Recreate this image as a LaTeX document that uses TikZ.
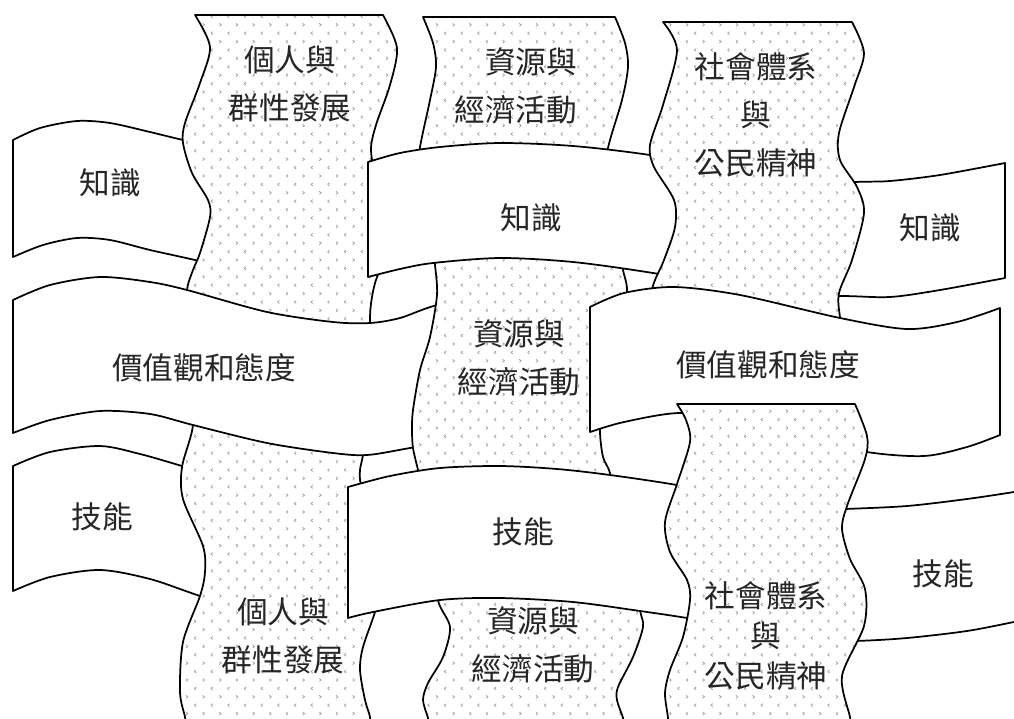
\documentclass[tikz,border=0pt]{standalone}
\usepackage{fontspec}
\setmainfont{Noto Sans CJK TC}
\usepackage{xcolor}
\usepackage{tikz}
\usetikzlibrary{patterns}

\pgfdeclarepatternformonly{chevrons}{\pgfqpoint{-1pt}{-1pt}}{\pgfqpoint{13.5pt}{13.6pt}}{\pgfqpoint{12.5pt}{12.6pt}}{%
 \pgfsetlinewidth{0.5pt}%
 \pgfpathmoveto{\pgfqpoint{2pt}{4.4pt}}\pgfpathlineto{\pgfqpoint{3.4pt}{3.3pt}}\pgfpathlineto{\pgfqpoint{2pt}{2.2pt}}%
 \pgfpathmoveto{\pgfqpoint{9.6pt}{10.7pt}}\pgfpathlineto{\pgfqpoint{8.2pt}{9.6pt}}\pgfpathlineto{\pgfqpoint{9.6pt}{8.5pt}}%
 \pgfusepath{stroke}}

\begin{document}
\begin{tikzpicture}[x=0.75pt, y=-0.75pt, line width=1.3pt, line join=round,
  band/.style={draw, fill=white},
  strand/.style={draw, preaction={fill=white}, pattern=chevrons, pattern color=black!40},
  lbl/.style={font=\fontsize{23}{36}\selectfont, text=black!85, align=center, inner sep=0pt}]
\useasboundingbox (0,0) rectangle (1014,718);
\clip (0,0) rectangle (1014,718);

\draw[band] plot[smooth] coordinates {(13,140) (40,128) (77,121) (110,123) (150,132) (183,140) (290,165)} -- plot[smooth] coordinates {(290,282) (195,260) (150,250) (110,240) (77,238) (43,245) (13,257)} -- cycle;
\draw[band] plot[smooth] coordinates {(760,186) (855,182) (890,181) (940,175) (1005,163)} -- plot[smooth] coordinates {(1005,278) (940,290) (890,297) (839,296) (760,298)} -- cycle;
\draw[band] plot[smooth] coordinates {(13,466) (50,452) (100,446) (140,454) (182,466) (280,495)} -- plot[smooth] coordinates {(280,622) (200,596) (150,579) (100,570) (50,577) (13,591)} -- cycle;
\draw[band] plot[smooth] coordinates {(760,512) (845,509) (907,506) (967,499) (1014,492) (1030,489)} -- plot[smooth] coordinates {(1030,619) (1014,622) (967,631) (907,638) (855,641) (760,643)} -- cycle;

\draw[strand] (423,17) -- plot[smooth] coordinates {(615,17) (625,43) (628,67) (622,100) (608,148) (600,200)} -- plot[smooth] coordinates {(412,200) (420,147) (430,100) (436,67) (433,43) (423,17)} -- cycle;
\draw[strand] plot[smooth] coordinates {(440,560) (438,600) (450,627) (443,657) (428,683) (423,700) (428,718) (430,730)} -- plot[smooth] coordinates {(625,730) (623,718) (617,700) (618,687) (633,657) (643,627) (640,610) (632,560)} -- cycle;
\draw[strand] (195,15) -- plot[smooth] coordinates {(383,15) (397,48) (390,85) (376,125) (371,150) (377,180) (393,207) (397,222) (388,255) (377,277) (372,297) (370,322) (373,380)} -- plot[smooth] coordinates {(186,380) (185,330) (187,290) (193,270) (200,253) (210,217) (208,200) (192,173) (183,143) (185,123) (200,83) (210,47) (195,15)} -- cycle;
\draw[strand] plot[smooth] coordinates {(190,380) (193,425) (182,467) (183,499) (203,546) (205,572) (200,596) (183,642) (180,692) (185,717) (187,730)} -- plot[smooth] coordinates {(370,730) (370,717) (365,700) (360,670) (363,647) (375,612) (381,585) (382,555) (372,515) (361,485) (360,470) (363,455) (368,420) (370,380)} -- cycle;

\draw[band] plot[smooth] coordinates {(13,300) (50,285) (100,277) (150,282) (187,290) (267,312) (333,322) (370,323) (400,318) (437,305) (520,285)} -- plot[smooth] coordinates {(520,428) (410,448) (367,455) (333,453) (267,443) (193,425) (150,414) (100,411) (50,420) (13,433)} -- cycle;
\draw[strand] plot[smooth] coordinates {(430,200) (433,250) (435,265) (437,295) (430,337) (420,370) (413,410) (412,430) (413,448) (418,470) (425,500) (430,540)} -- plot[smooth] coordinates {(618,540) (613,500) (610,473) (603,457) (600,433) (601,410) (608,370) (618,337) (627,293) (623,270) (620,250) (615,200)} -- cycle;
\draw[band] plot[smooth] coordinates {(368,162) (400,153) (440,147) (500,143) (573,146) (650,155) (750,172)} -- plot[smooth] coordinates {(750,290) (653,273) (573,262) (500,258) (433,263) (400,269) (368,277)} -- cycle;
\draw[strand] (663,22) -- plot[smooth] coordinates {(852,22) (864,53) (854,87) (839,133) (840,160) (857,187) (864,213) (852,260) (839,293) (840,317) (846,345) (850,370)} -- plot[smooth] coordinates {(662,370) (653,330) (652,290) (664,260) (675,227) (674,200) (654,167) (650,145) (663,105) (677,50) (663,22)} -- cycle;
\draw[band] plot[smooth] coordinates {(590,307) (624,293) (674,287) (740,295) (840,318) (907,329) (957,322) (1000,308)} -- plot[smooth] coordinates {(1000,435) (967,447) (924,456) (867,452) (800,436) (740,421) (680,413) (624,422) (590,432)} -- cycle;
\draw[band] plot[smooth] coordinates {(348,487) (390,476) (440,468) (500,466) (557,469) (610,475) (677,485) (770,502)} -- plot[smooth] coordinates {(770,632) (687,618) (640,611) (573,602) (500,598) (440,600) (373,612) (348,618)} -- cycle;
\draw[strand] (677,404) -- plot[smooth] coordinates {(855,404) (867,436) (865,459) (847,506) (842,529) (850,559) (865,589) (864,626) (842,676) (850,717) (852,730)} -- plot[smooth] coordinates {(668,730) (668,718) (665,693) (670,670) (683,637) (690,600) (687,580) (670,552) (665,522) (677,484) (690,442) (686,420) (677,404)} -- cycle;

\node[lbl] (p1) at (290,84) {個人與\\群性發展};
\node[lbl, align=right, anchor=east] (r1) at (578,86) {資源與\\經濟活動};
\node[lbl] (s1) at (756,115) {社會體系\\與\\公民精神};
\node[lbl] (k1) at (110,183) {知識};
\node[lbl] (k2) at (531,218) {知識};
\node[lbl] (k3) at (930,228) {知識};
\node[lbl] (v1) at (204,368) {價值觀和態度};
\node[lbl] (r2) at (519,358) {資源與\\經濟活動};
\node[lbl] (v2) at (768,365) {價值觀和態度};
\node[lbl] (j1) at (102,517) {技能};
\node[lbl] (j2) at (523,532) {技能};
\node[lbl] (j3) at (943,574) {技能};
\node[lbl] (p2) at (283,636) {個人與\\群性發展};
\node[lbl] (r3) at (533,645) {資源與\\經濟活動};
\node[lbl, font=\fontsize{23}{30}\selectfont] (s2) at (766,636) {社會體系\\與\\公民精神};
\end{tikzpicture}
\end{document}
